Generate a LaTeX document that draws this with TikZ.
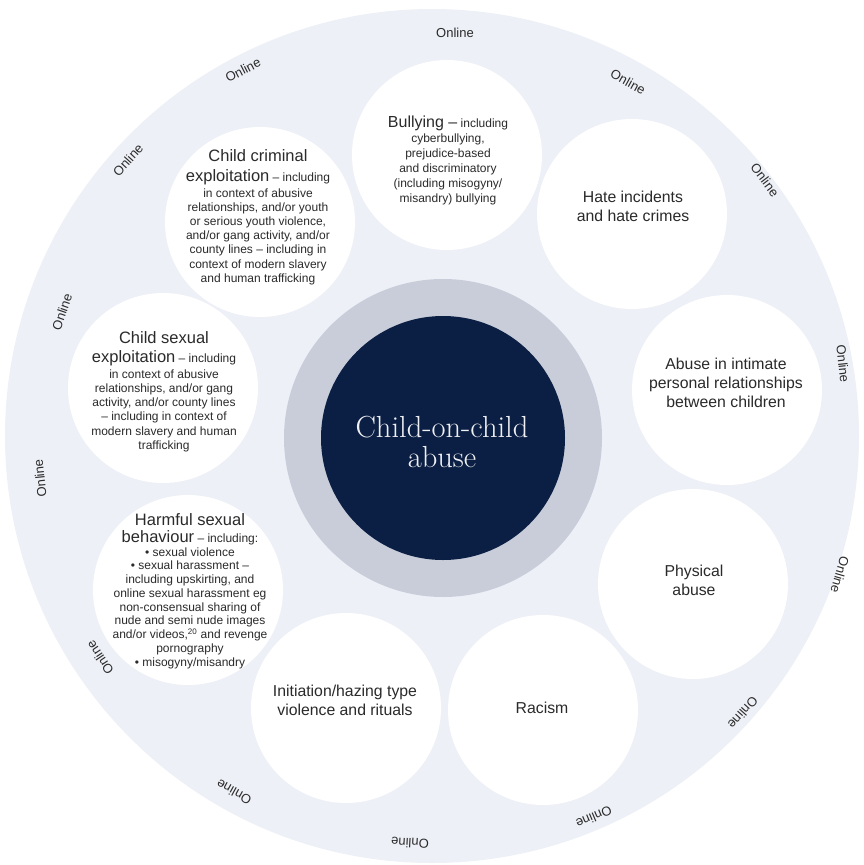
\documentclass[tikz,border=0pt]{standalone}
\usepackage{fontspec}
\newfontfamily\sansf{Liberation Sans}
\definecolor{navy}{HTML}{0B1E43}
\definecolor{ringgray}{HTML}{C9CDDA}
\definecolor{bgring}{HTML}{EDF0F6}
\definecolor{txt}{HTML}{2A2A2A}
\newcommand{\bigt}{\fontsize{16.5}{18}\selectfont}
\tikzset{
  bub/.style={circle, fill=white, minimum size=190pt, inner sep=0pt},
  onl/.style={font=\sansf\fontsize{13}{15}\selectfont, text=txt, inner sep=0pt},
  item/.style={font=\sansf\fontsize{15.8}{19}\selectfont, text=txt, align=center, inner sep=0pt},
  desc/.style={font=\sansf\fontsize{12}{14.2}\selectfont, text=txt, align=center, inner sep=0pt}
}
\begin{document}
\begin{tikzpicture}[x=1pt,y=-1pt]
\useasboundingbox (0,0) rectangle (863,865);
% background rings
\node[circle, fill=bgring, minimum size=854pt, inner sep=0pt] (outer) at (432,436) {};
\node[bub] (cbul) at (447,155) {};
\node[bub] (chat) at (632,214) {};
\node[bub] (cint) at (727,390) {};
\node[bub] (cphy) at (693,584) {};
\node[bub] (crac) at (543,710) {};
\node[bub] (cini) at (346,708) {};
\node[bub] (char) at (188,590) {};
\node[bub] (csex) at (163,388) {};
\node[bub] (ccri) at (260,222) {};
\node[circle, fill=ringgray, minimum size=318pt, inner sep=0pt] (ring) at (443,438) {};
\node[circle, fill=navy, minimum size=244pt, inner sep=0pt] (core) at (443,438) {};
% centre text
\node[font=\fontsize{30.5}{30.5}\selectfont, text=white!94!navy, align=center, inner sep=0pt] (tcore) at (442,442) {Child-on-child\\abuse};
% texts in circles
\node[desc, font=\sansf\fontsize{12}{15}\selectfont] (tbul) at (448,160) {{\fontsize{16}{18}\selectfont Bullying –} including\\cyberbullying,\\prejudice-based\\and discriminatory\\(including misogyny/\\misandry) bullying};
\node[item] (that) at (633,206) {Hate incidents\\and hate crimes};
\node[item] (tint) at (726,383) {Abuse in intimate\\personal relationships\\between children};
\node[item] (tphy) at (694,580) {Physical\\abuse};
\node[item] (trac) at (542,708) {Racism};
\node[item] (tini) at (345,700) {Initiation/hazing type\\violence and rituals};
\node[desc] (tcri) at (258,217) {{\bigt Child criminal}\\[5.8pt]{\bigt exploitation} – including\\[1.8pt]in context of abusive\\relationships, and/or youth\\or serious youth violence,\\and/or gang activity, and/or\\county lines – including in\\context of modern slavery\\and human trafficking};
\node[desc, font=\sansf\fontsize{12}{14.3}\selectfont] (tsex) at (164,392) {{\bigt Child sexual}\\[4.8pt]{\bigt exploitation} – including\\[0.8pt]in context of abusive\\relationships, and/or gang\\activity, and/or county lines\\– including in context of\\modern slavery and human\\trafficking};
\node[desc, font=\sansf\fontsize{12}{13.75}\selectfont] (thar) at (190,591) {{\bigt Harmful sexual}\\[3.2pt]{\bigt behaviour} – including:\\• sexual violence\\• sexual harassment –\\including upskirting, and\\online sexual harassment eg\\non-consensual sharing of\\nude and semi nude images\\and/or videos,\textsuperscript{20} and revenge\\pornography\\• misogyny/misandry};
% Online labels
\node[onl, rotate=0]    (o1)  at (455,33)  {Online};
\node[onl, rotate=-29]  (o2)  at (628,82)  {Online};
\node[onl, rotate=-53]  (o3)  at (765,180) {Online};
\node[onl, rotate=-84]  (o4)  at (843,364) {Online};
\node[onl, rotate=-106] (o5)  at (840,575) {Online};
\node[onl, rotate=-132] (o6)  at (743,713) {Online};
\node[onl, rotate=-157] (o7)  at (594,817) {Online};
\node[onl, rotate=177]  (o8)  at (410,843) {Online};
\node[onl, rotate=151]  (o9)  at (234,792) {Online};
\node[onl, rotate=124]  (o10) at (100,658) {Online};
\node[onl, rotate=96]   (o11) at (40,478)  {Online};
\node[onl, rotate=71]   (o12) at (62,312)  {Online};
\node[onl, rotate=48]   (o13) at (128,160) {Online};
\node[onl, rotate=27]   (o14) at (243,70)  {Online};
\end{tikzpicture}
\end{document}
